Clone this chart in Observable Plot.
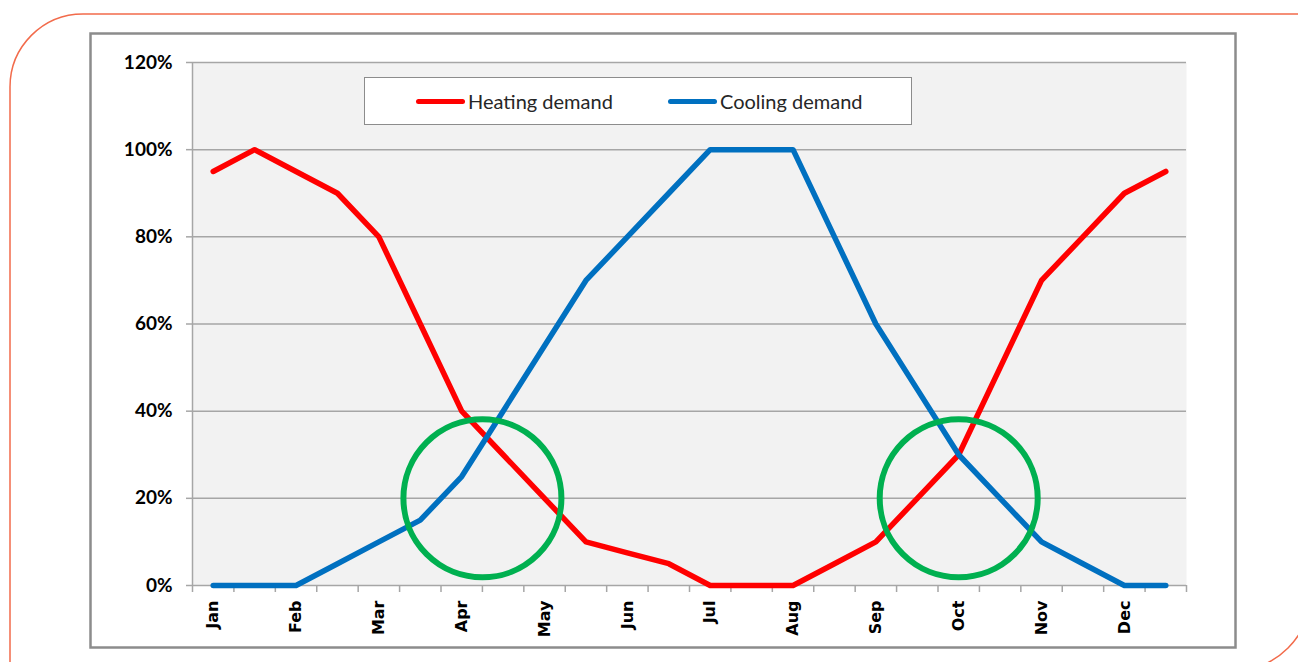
<!DOCTYPE html>
<html>
<head>
<meta charset="utf-8">
<script src="https://cdn.jsdelivr.net/npm/d3@7"></script>
<script src="https://cdn.jsdelivr.net/npm/@observablehq/plot@0.6"></script>
<style>
  html, body { margin: 0; padding: 0; background: #fff; }
  #wrap { position: relative; width: 1298px; height: 662px; overflow: hidden; }
  #deco { position: absolute; left: 0; top: 0; }
  #chart { position: absolute; left: 0; top: 0; }
  #legend { position: absolute; left: 364px; top: 77px; width: 548px; height: 48px; box-sizing: border-box;
            border: 1px solid #8c8c8c; background: #fff; font-family: Lato, "Open Sans", sans-serif; font-size: 20px; color: #262626; }
  .item { position: absolute; top: 0; height: 100%; display: flex; align-items: center; }
  .sw { width: 49px; height: 5px; border-radius: 3px; margin-right: 3px; }
</style>
</head>
<body>
<div id="wrap">
  <svg id="deco" width="1298" height="662">
    <path d="M 10 700 L 10 87 A 73 73 0 0 1 83 14 L 1310 14" fill="none" stroke="#f26b4b" stroke-width="1.5"/>
    <path d="M 1310 595 A 75 75 0 0 1 1235 670" fill="none" stroke="#f26b4b" stroke-width="1.5"/>
    <rect x="90.5" y="33.5" width="1145" height="614" fill="#fff" stroke="#8c8c8c" stroke-width="2.5"/>
  </svg>
  <div id="chart"></div>
  <div id="legend"></div>
</div>
<script>
// Half-month periods: 24 slots, month labels on every other slot
const months = ["Jan","Feb","Mar","Apr","May","Jun","Jul","Aug","Sep","Oct","Nov","Dec"];
const heating = [95,100,95,90,80,60,40,30,20,10,7.5,5,0,0,0,5,10,20,30,50,70,80,90,95];
const cooling = [0,0,0,5,10,15,25,40,55,70,80,90,100,100,100,80,60,45,30,20,10,5,0,0];
const yTicks = [0,20,40,60,80,100,120];
const seriesNames = ["Heating demand","Cooling demand"];
const seriesColors = ["#ff0000","#0070c0"];
// highlighted crossover zones (slot position, value)
const highlightSlot = [7, 18.5];
const highlightValue = [20, 20];

const rows = heating.map((h, i) => ({slot: i + 0.5, heating: h, cooling: cooling[i]}));
const highlights = highlightSlot.map((s, i) => ({slot: s, value: highlightValue[i]}));
const monthPos = months.map((m, k) => 2 * k + 0.5);

const chart = Plot.plot({
  width: 1298, height: 662,
  marginLeft: 192, marginRight: 112, marginTop: 62, marginBottom: 77,
  x: {domain: [0, 24], axis: null, label: null},
  y: {domain: [0, 120], axis: null, label: null},
  style: {background: "transparent", overflow: "visible"},
  marks: [
    Plot.frame({fill: "#f2f2f2", stroke: null}),
    Plot.gridY(yTicks.filter(d => d > 0), {stroke: "#a6a6a6", strokeOpacity: 1, strokeWidth: 1.5}),
    Plot.ruleX([0], {stroke: "#a6a6a6", strokeWidth: 1.5}),
    Plot.ruleY([0], {stroke: "#a6a6a6", strokeWidth: 1.5}),
    Plot.axisY({ticks: yTicks, tickFormat: d => d + "%", tickSize: 6, tickPadding: 14, label: null,
      stroke: "#a6a6a6", strokeOpacity: 1, strokeWidth: 1.5, fill: "#000",
      fontSize: 19, fontFamily: "Lato", fontWeight: "bold"}),
    Plot.axisX({ticks: d3.range(25), tickSize: 7, tickFormat: () => "", label: null,
      stroke: "#a6a6a6", strokeOpacity: 1, strokeWidth: 1.5}),
    Plot.axisX({ticks: monthPos, tickFormat: d => months[(d - 0.5) / 2], tickSize: 0, tickRotate: -90, tickPadding: 15,
      label: null, fill: "#000", fontSize: 16, fontFamily: "DejaVu Sans", fontWeight: "bold"}),
    Plot.line(rows, {x: "slot", y: "heating", stroke: seriesColors[0], strokeWidth: 5.5, strokeLinejoin: "round", strokeLinecap: "round"}),
    Plot.line(rows, {x: "slot", y: "cooling", stroke: seriesColors[1], strokeWidth: 5.5, strokeLinejoin: "round", strokeLinecap: "round"}),
    Plot.dot(highlights, {x: "slot", y: "value", r: 79, stroke: "#00b050", strokeWidth: 6, fill: "none"})
  ]
});
document.getElementById("chart").appendChild(chart);

const legend = document.getElementById("legend");
const itemLeft = [51, 303];
seriesNames.forEach((name, i) => {
  const it = document.createElement("div");
  it.className = "item";
  it.style.left = itemLeft[i] + "px";
  it.innerHTML = `<span class="sw" style="background:${seriesColors[i]}"></span><span>${name}</span>`;
  legend.appendChild(it);
});
</script>
</body>
</html>
